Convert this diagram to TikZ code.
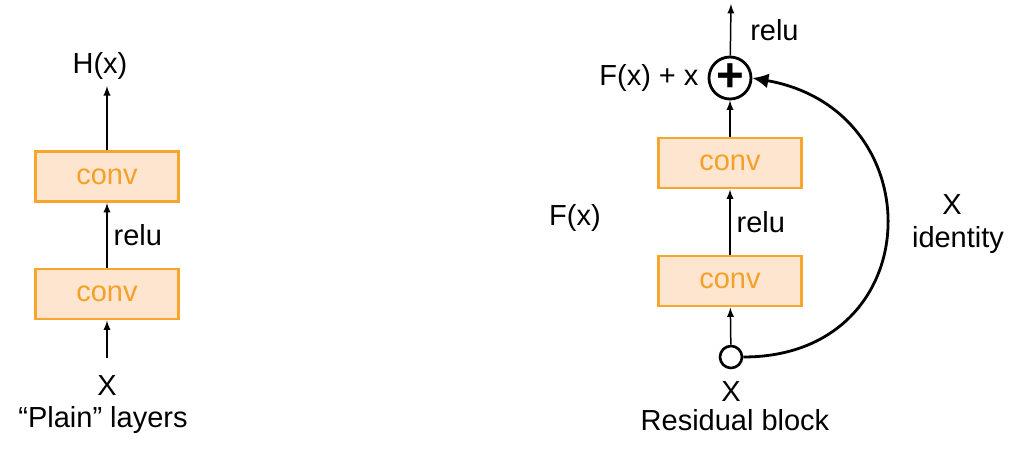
\documentclass[tikz,border=0pt]{standalone}
\usepackage{fontspec}
\setmainfont{Liberation Sans}
\usepackage{tikz}
\usetikzlibrary{arrows,arrows.meta}
\usetikzlibrary{positioning,shapes}
\definecolor{convline}{RGB}{246,165,45}
\definecolor{convfill}{RGB}{253,229,208}
\definecolor{convtext}{RGB}{245,160,40}

\begin{document}
\begin{tikzpicture} [-latex,auto,line width=0.85pt,
    every node/.style={font=\fontsize{16.5}{20}\selectfont},
    conv/.style={rectangle,draw=convline,fill=convfill,text=convtext,line width=1.7pt,minimum width=2.86cm,minimum height=1.0cm}]

  \useasboundingbox (0,0) rectangle (20.22,9.14);

  % plain layers
  \node[conv] (c1) at (2.14,3.26) {conv};
  \node[conv] (c2) [above of=c1, node distance=2.35cm] {conv};
  \node (hx) at (2.0,7.82) {H(x)};
  \coordinate (in1) at (2.14,1.98);
  \node (x1) at (2.14,1.42) {X};
  \node (plain) at (2.06,0.74) {``Plain'' layers};

  \path
    (in1) edge (c1)
    (c1) edge node [right] {relu} (c2)
    (c2.north) edge (c2.north |- hx.south);

  % residual block
  \node[conv] (r1) at (14.6,3.52) {conv};
  \node[conv] (r2) [above of=r1, node distance=2.36cm] {conv};
  \node[circle,draw,line width=1.6pt,minimum size=0.84cm,inner sep=0pt] (plus) [above of=r2, node distance=1.7cm] {\fontsize{27}{27}\selectfont\bfseries +};
  \coordinate (out) at (14.62,9.06);
  \node[circle,draw,line width=1.5pt,minimum size=0.44cm,inner sep=0pt] (inp) at (14.62,2.0) {};
  \node (x2) at (14.62,1.3) {X};
  \node (res) at (14.7,0.74) {Residual block};
  \node (fxx) [left=0.05cm of plus] {F(x) + x};
  \node (fx) at (11.5,4.78) {F(x)};
  \node (x3) at (19.04,5.04) {X};
  \node (ident) at (19.16,4.34) {identity};

  \path
    (inp) edge (r1)
    (r1) edge node [right] {relu} (r2)
    (r2) edge (plus)
    (plus) edge node [right,xshift=0.26cm] {relu} (out);

  \draw[line width=1.6pt,-{Latex[length=3.2mm,width=3mm]}] (inp.east) to[out=0,in=-10,looseness=1.7] (plus.east);

\end{tikzpicture}
\end{document}
